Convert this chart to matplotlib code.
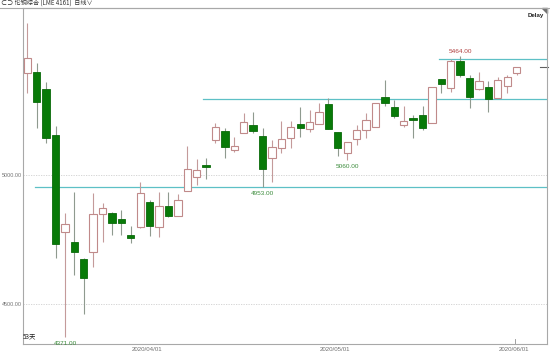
import matplotlib
matplotlib.use("Agg")
import matplotlib.pyplot as plt
from matplotlib.lines import Line2D
import numpy as np

plt.rcParams["font.family"] = ["Liberation Sans", "DejaVu Sans"]

# LME copper (4161) daily candles, 2020-03-13 .. 2020-06-01 (53 days)
opens = [5396, 5400, 5334, 5157, 4780, 4742, 4675, 4701, 4850, 4855,
         4830, 4767, 4798, 4896, 4798, 4881, 4843, 4940, 4995, 5040,
         5137, 5173, 5098, 5163, 5195, 5154, 5068, 5105, 5144, 5199,
         5179, 5199, 5277, 5167, 5085, 5140, 5178, 5186, 5305, 5264,
         5197, 5221, 5234, 5202, 5373, 5340, 5444, 5379, 5335, 5344,
         5299, 5348, 5399]
highs = [5590, 5435, 5364, 5192, 4852, 4936, 4678, 4930, 4894, 4858,
         4865, 4803, 4973, 4904, 4934, 4934, 4926, 5115, 5064, 5066,
         5202, 5183, 5150, 5241, 5247, 5183, 5137, 5211, 5211, 5267,
         5254, 5280, 5299, 5167, 5128, 5195, 5244, 5282, 5370, 5293,
         5269, 5234, 5269, 5344, 5373, 5452, 5464, 5390, 5402, 5368,
         5383, 5390, 5422]
lows = [5319, 5183, 5127, 4680, 4371, 4613, 4460, 4643, 4742, 4768,
        4768, 4738, 4796, 4764, 4759, 4837, 4843, 4940, 4962, 4984,
        5124, 5068, 5092, 5163, 5163, 4953, 4975, 5085, 5105, 5150,
        5169, 5199, 5180, 5076, 5060, 5118, 5144, 5186, 5269, 5221,
        5186, 5144, 5176, 5202, 5321, 5325, 5381, 5260, 5331, 5247,
        5299, 5319, 5390]
closes = [5455, 5286, 5146, 4733, 4810, 4701, 4602, 4848, 4872, 4816,
          4815, 4755, 4930, 4803, 4881, 4842, 4904, 5023, 5022, 5031,
          5186, 5111, 5115, 5208, 5173, 5024, 5109, 5140, 5186, 5185,
          5208, 5245, 5180, 5107, 5128, 5176, 5216, 5282, 5282, 5230,
          5212, 5214, 5183, 5344, 5354, 5444, 5390, 5305, 5368, 5295,
          5370, 5381, 5422]

month_days = [13, 33, 52]
month_labels = ["2020/04/01", "2020/05/01", "2020/06/01"]

level_values = [4953, 5295, 5452]
level_from = [0.82, 18.64, 43.75]

low_marks = [4, 25, 34]      # candles whose low is labelled
high_marks = [46]            # candles whose high is labelled

UP_EDGE = "#c08a8a"
DOWN_FACE = "#087a08"
GRAY = "#a8a8a8"

o = np.array(opens)
h = np.array(highs)
l = np.array(lows)
c = np.array(closes)
x = np.arange(len(o))
up = c >= o

fig = plt.figure(figsize=(5.5, 3.53), dpi=100)
ax = fig.add_axes([23 / 550, 9 / 353, 524 / 550, 336 / 353])

for v in (4500, 5000):
    ax.axhline(v, color="#cfcfcf", lw=0.6, ls=(0, (1.5, 1.5)), zorder=0)

for v, s in zip(level_values, level_from):
    ax.plot([s, 60], [v, v], color="#5ec0c6", lw=0.9, zorder=1)

ax.vlines(x[up], l[up], h[up], color="#c49a9a", lw=0.8, zorder=2)
ax.vlines(x[~up], l[~up], h[~up], color="#8f9a8f", lw=0.8, zorder=2)
ax.bar(x[up], c[up] - o[up], bottom=o[up], width=0.78,
       facecolor="white", edgecolor=UP_EDGE, lw=0.8, zorder=3)
ax.bar(x[~up], o[~up] - c[~up], bottom=c[~up], width=0.78,
       facecolor=DOWN_FACE, edgecolor="#0a6a0a", lw=0.6, zorder=3)

for i in low_marks:
    ax.annotate(f"{lows[i]:.2f}", (x[i], lows[i]), xytext=(0, -2.6),
                textcoords="offset points", ha="center", va="top",
                fontsize=4.6, color="#3c8c3c")
for i in high_marks:
    ax.annotate(f"{highs[i]:.2f}", (x[i], highs[i]), xytext=(0, 1.6),
                textcoords="offset points", ha="center", va="bottom",
                fontsize=4.6, color="#b04040")

# last price marker on the right edge
ax.plot([1 - 7 / 524, 1 + 1 / 524], [closes[-1], closes[-1]], color="#606060",
        lw=0.8, transform=ax.get_yaxis_transform(), clip_on=False)
# cursor tick at the last month label
ax.plot([month_days[-1] - 0.2] * 2, [0, 5 / 336], color="#909090", lw=0.6,
        transform=ax.get_xaxis_transform())

ax.set_xlim(-0.457, 55.23)
ax.set_ylim(4345, 5650)
ax.set_yticks([4500, 5000])
ax.set_yticklabels(["4500.00", "5000.00"])
ax.set_xticks([d - 0.3 for d in month_days])
ax.set_xticklabels(month_labels)
ax.tick_params(length=0, labelsize=4.4, colors="#707070", pad=2.2)
ax.tick_params(axis="y", labelsize=3.9, pad=0.8)
for sp in ax.spines.values():
    sp.set_color(GRAY)
    sp.set_linewidth(0.8)

ax.text(0.0, 0.012, "53天", transform=ax.transAxes, fontsize=4.6,
        color="#202020", family=["Noto Sans CJK SC", "DejaVu Sans"],
        va="bottom", ha="left")
ax.text(0.994, 0.985, "Delay", transform=ax.transAxes, fontsize=4.4,
        color="#202020", weight="bold", ha="right", va="top")
ax.fill([1 - 5 / 524, 1, 1], [1, 1, 1 - 5 / 336], color="#707070",
        transform=ax.transAxes, clip_on=False)

fig.add_artist(Line2D([0, 1], [1 - 8 / 353] * 2, color=GRAY, lw=0.8))
fig.text(0.002, 1 - 3.5 / 353, "⊂⊃ 伦铜综合 (LME 4161)  日线∨", fontsize=4.4,
         color="#303030", family=["Noto Sans CJK SC", "DejaVu Sans"],
         va="center", ha="left")

fig.savefig("out.png", dpi=100)
